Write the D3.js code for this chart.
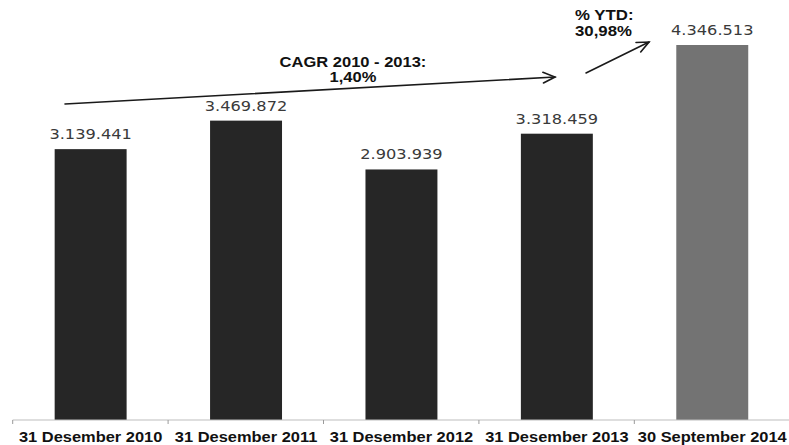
<!DOCTYPE html>
<html>
<head>
<meta charset="utf-8">
<script src="https://cdn.jsdelivr.net/npm/d3@7"></script>
<style>
  body { margin: 0; background: #fff; }
  svg { display: block; }
</style>
</head>
<body>
<script>
var categories = ["31 Desember 2010", "31 Desember 2011", "31 Desember 2012", "31 Desember 2013", "30 September 2014"];
var values = [3139441, 3469872, 2903939, 3318459, 4346513];
var valueLabels = ["3.139.441", "3.469.872", "2.903.939", "3.318.459", "4.346.513"];
var barColors = ["#262626", "#262626", "#262626", "#262626", "#737373"];
var cagrLines = ["CAGR 2010 - 2013:", "1,40%"];
var ytdLines = ["% YTD:", "30,98%"];

var w = 789, h = 445;

var svg = d3.select("body").append("svg")
  .attr("width", w)
  .attr("height", h);

var x = d3.scaleBand()
  .domain(categories)
  .range([12.7, 790.2])
  .paddingInner(0.537)
  .paddingOuter(0.27);

var y = d3.scaleLinear()
  .domain([0, d3.max(values)])
  .range([420, 45]);

// some texts in the picture are drawn wider than the font, widen them the same way
var widen = function(k) {
  return function(sel) {
    sel.each(function() {
      var len = this.getComputedTextLength();
      d3.select(this).attr("textLength", len * k).attr("lengthAdjust", "spacingAndGlyphs");
    });
  };
};

svg.selectAll("rect.bar")
  .data(values)
  .enter().append("rect")
    .attr("class", "bar")
    .attr("x", function(d, i) { return x(categories[i]); })
    .attr("width", x.bandwidth())
    .attr("y", function(d) { return y(d); })
    .attr("height", function(d) { return y(0) - y(d); })
    .attr("fill", function(d, i) { return barColors[i]; });

svg.selectAll("text.val")
  .data(values)
  .enter().append("text")
    .attr("class", "val")
    .attr("x", function(d, i) { return x(categories[i]) + x.bandwidth() / 2; })
    .attr("y", function(d) { return y(d) - 10; })
    .attr("text-anchor", "middle")
    .style("font-family", "'DejaVu Sans', Verdana, sans-serif")
    .style("font-size", "13.5px")
    .style("fill", "#3a3a3a")
    .text(function(d, i) { return valueLabels[i]; })
    .call(widen(1.2));

// axis: labels from d3, ticks between the categories
var axis = svg.append("g")
  .attr("transform", "translate(0," + y(0) + ")")
  .call(d3.axisBottom(x).tickSize(0).tickPadding(10.5));
axis.select(".domain").remove();
axis.selectAll("text")
  .style("font-family", "'Liberation Sans', Arial, sans-serif")
  .style("font-weight", "bold")
  .style("font-size", "15.5px")
  .style("fill", "#111")
  .call(widen(1.06));

var x0 = x.range()[0], step = x.step();
axis.append("line")
  .attr("x1", x0).attr("x2", x.range()[1])
  .attr("stroke", "#bdbdbd").attr("stroke-width", 1);
axis.selectAll("line.sep")
  .data(d3.range(categories.length + 1))
  .enter().append("line")
    .attr("class", "sep")
    .attr("x1", function(i) { return x0 + i * step; })
    .attr("x2", function(i) { return x0 + i * step; })
    .attr("y1", 0).attr("y2", 4)
    .attr("stroke", "#9a9a9a").attr("stroke-width", 1);

// arrows
var arrow = function(x1, y1, x2, y2) {
  var a = Math.atan2(y2 - y1, x2 - x1), len = 13, spread = 0.42;
  var g = svg.append("g")
    .attr("stroke", "#1a1a1a").attr("stroke-width", 1.6).attr("fill", "none")
    .attr("stroke-linecap", "round");
  g.append("line").attr("x1", x1).attr("y1", y1).attr("x2", x2).attr("y2", y2);
  g.append("path").attr("d",
    "M" + (x2 - len * Math.cos(a - spread)) + "," + (y2 - len * Math.sin(a - spread)) +
    "L" + x2 + "," + y2 +
    "L" + (x2 - len * Math.cos(a + spread)) + "," + (y2 - len * Math.sin(a + spread)));
};
arrow(65, 104, 555, 77);
arrow(586, 73, 649, 42);

var note = function(lines, tx, ty, anchor, size, k) {
  svg.append("g").selectAll("text")
    .data(lines)
    .enter().append("text")
      .attr("x", tx)
      .attr("y", function(d, i) { return ty + i * 15.5; })
      .attr("text-anchor", anchor)
      .style("font-family", "'Liberation Sans', Arial, sans-serif")
      .style("font-weight", "bold")
      .style("font-size", size + "px")
      .style("fill", "#111")
      .text(function(d) { return d; })
      .call(widen(k));
};
note(cagrLines, 353, 66.5, "middle", 15, 1.1);
note(ytdLines, 575, 20, "start", 14, 1.2);
</script>
</body>
</html>
